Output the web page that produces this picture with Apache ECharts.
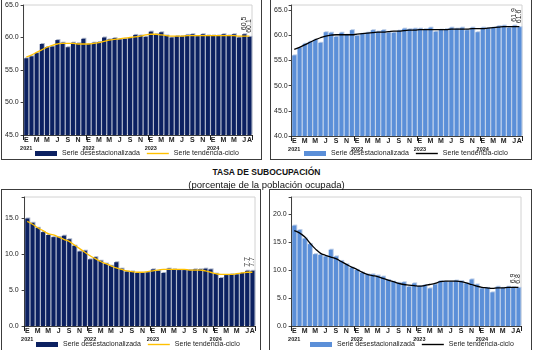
<!DOCTYPE html>
<html>
<head>
<meta charset="utf-8">
<script src="https://cdn.jsdelivr.net/npm/echarts@6/dist/echarts.min.js"></script>
<style>
body { margin: 0; width: 533px; height: 350px; overflow: hidden; background: #fff; position: relative; font-family: 'Liberation Sans', Arial, sans-serif; }
.panel { position: absolute; box-sizing: border-box; border: 1px solid #3c3c3c; }
.tit { position: absolute; left: 0; width: 533px; text-align: center; color: #111; white-space: nowrap; }
</style>
</head>
<body>
<div id="g1" class="panel" style="left:1px;top:-1px;width:261px;height:161px"></div>
<div id="g2" class="panel" style="left:270px;top:-1px;width:262px;height:161px"></div>
<div id="g3" class="panel" style="left:1px;top:189px;width:260px;height:170px"></div>
<div id="g4" class="panel" style="left:269px;top:189px;width:263px;height:170px"></div>
<div class="tit" style="top:167px;font-size:8.5px;line-height:10px;font-weight:bold">TASA DE SUBOCUPACIÓN</div>
<div class="tit" style="top:179px;font-size:9.5px;line-height:12px">(porcentaje de la población ocupada)</div>
<script>
var fuente = "'Liberation Sans', Arial, sans-serif";

// meses ene-2021 a ago-2024
var meses = ['E','F','M','A','M','J','J','A','S','O','N','D',
             'E','F','M','A','M','J','J','A','S','O','N','D',
             'E','F','M','A','M','J','J','A','S','O','N','D',
             'E','F','M','A','M','J','J','A'];
var anios = ['2021', '2022', '2023', '2024'];

// panel superior izquierdo
var desest1 = [56.8,57.1,57.6,59.0,58.5,58.6,59.6,59.2,58.5,59.2,59.1,59.8,
               59.0,59.2,59.3,60.0,59.7,59.9,59.7,59.8,59.9,60.4,60.3,60.1,
               60.9,60.5,60.8,60.3,60.0,60.2,60.2,60.4,60.5,60.2,60.5,60.3,
               60.3,60.3,60.5,60.3,60.5,60.0,60.5,60.1];
var tend1 = [57.0,57.3,57.7,58.1,58.5,58.8,59.0,59.1,59.1,59.1,59.0,59.0,
             59.0,59.1,59.2,59.4,59.6,59.7,59.8,59.9,60.0,60.1,60.2,60.4,
             60.5,60.5,60.4,60.3,60.2,60.2,60.2,60.3,60.3,60.3,60.3,60.3,
             60.3,60.3,60.3,60.3,60.3,60.2,60.2,60.2];

// panel superior derecho
var desest2 = [56.0,57.5,58.3,58.7,59.1,58.5,60.6,60.5,59.7,60.5,60.1,61.0,
               59.9,60.3,60.5,61.0,60.7,61.0,60.5,60.5,60.9,61.3,61.2,61.3,
               61.3,61.2,61.5,60.7,61.1,61.2,61.5,61.3,61.5,61.0,61.5,60.6,
               61.5,61.4,61.5,61.8,61.9,61.5,61.9,61.6];
var tend2 = [57.2,57.6,58.1,58.6,59.1,59.5,59.8,60.0,60.1,60.1,60.1,60.1,
             60.2,60.3,60.4,60.5,60.6,60.6,60.7,60.8,60.8,60.9,61.0,61.0,
             61.1,61.1,61.1,61.1,61.1,61.1,61.2,61.2,61.2,61.2,61.3,61.3,
             61.3,61.4,61.5,61.6,61.7,61.7,61.7,61.7];

// subocupacion, panel inferior izquierdo
var desest3 = [15.0,14.4,13.7,13.1,12.7,12.4,12.4,12.6,12.1,11.2,10.4,10.5,
               9.3,9.6,9.1,8.7,8.4,8.9,8.0,7.6,7.6,7.4,7.4,7.5,
               7.9,7.7,7.4,8.0,7.9,7.8,7.8,7.8,7.9,7.9,8.0,7.9,
               7.3,6.7,7.1,7.2,7.2,7.4,7.7,7.7];
var tend3 = [14.6,14.2,13.7,13.3,12.9,12.7,12.4,12.1,11.8,11.3,10.8,10.3,
             9.8,9.4,9.0,8.7,8.4,8.1,7.9,7.7,7.6,7.5,7.5,7.6,
             7.7,7.8,7.9,7.9,7.9,7.9,7.9,7.8,7.8,7.8,7.7,7.5,
             7.3,7.2,7.2,7.2,7.3,7.4,7.5,7.5];

// subocupacion, panel inferior derecho
var desest4 = [17.9,17.1,15.6,14.6,12.8,12.7,12.4,13.6,12.4,11.6,11.0,10.4,
               10.0,9.5,9.2,9.2,9.0,8.8,8.2,7.9,7.7,7.8,7.0,7.6,
               7.1,7.3,6.7,7.4,8.0,7.9,7.9,8.1,8.0,7.6,8.3,7.4,
               6.7,6.8,6.0,7.0,6.8,7.0,6.9,6.8];
var tend4 = [17.0,16.6,15.9,14.8,13.8,13.0,12.6,12.3,12.0,11.5,11.0,10.5,
             10.1,9.6,9.2,9.0,8.8,8.5,8.2,7.9,7.6,7.4,7.3,7.2,
             7.1,7.2,7.4,7.6,7.9,8.0,8.0,8.0,7.9,7.7,7.4,7.1,
             6.9,6.8,6.7,6.8,6.8,6.9,6.9,6.9];

var marino = '#0c2161', celeste = '#5b8fd8';

function grafica(id, cfg) {
	var chart = echarts.init(document.getElementById(id));
	var n = meses.length;
	chart.setOption({
		animation: false,
		textStyle: { fontFamily: fuente },
		grid: {
			left: cfg.grid[0], top: cfg.grid[1], width: cfg.grid[2], height: cfg.grid[3],
			show: true, borderColor: '#d2d2d2', borderWidth: 1
		},
		legend: {
			left: cfg.leyenda[0], top: cfg.leyenda[1], padding: 0,
			itemWidth: 22, itemHeight: 5, itemGap: 7,
			textStyle: { fontSize: 7, color: '#222', fontFamily: fuente },
			data: [
				{ name: 'Serie desestacionalizada', icon: 'rect', itemStyle: { shadowColor: 'transparent' } },
				{ name: 'Serie tendencia-ciclo', icon: 'path://M0,0L22,0L22,1.4L0,1.4Z' }
			]
		},
		xAxis: {
			type: 'category',
			data: meses,
			axisLine: { lineStyle: { color: '#404040', width: 1 } },
			axisTick: {
				show: true, length: 5,
				interval: function(i) { return i % 12 === 0; },
				lineStyle: { color: '#202020' }
			},
			axisLabel: {
				interval: function(i) { return i % 2 === 0 || i === n - 1; },
				margin: 2,
				color: '#222',
				align: 'center',
				formatter: function(v, i) {
					if (i % 12 === 0) return '{m|' + v + '}\n{a|' + anios[i / 12] + '}';
					return '{m|' + v + '}';
				},
				rich: {
					m: { fontSize: 7, fontWeight: 'bold', lineHeight: 7, align: 'center', color: '#222', fontFamily: fuente },
					a: { fontSize: 5.5, fontWeight: 'bold', lineHeight: 8, align: 'center', color: '#222', fontFamily: fuente }
				}
			}
		},
		yAxis: {
			type: 'value',
			min: cfg.min, max: cfg.max, interval: 5,
			axisLine: { show: true, lineStyle: { color: '#404040' } },
			axisTick: { show: true, length: 3, lineStyle: { color: '#404040' } },
			splitLine: { show: false },
			axisLabel: {
				fontSize: 7, color: '#222', margin: cfg.margen,
				formatter: function(v) { return v % 5 === 0 ? v.toFixed(1) : ''; }
			}
		},
		series: [{
			name: 'Serie desestacionalizada',
			type: 'bar',
			data: cfg.barras,
			barCategoryGap: '22%',
			itemStyle: { color: cfg.color, shadowColor: cfg.sombra, shadowOffsetX: 1, shadowOffsetY: -1, shadowBlur: 0 },
			label: {
				show: true, position: 'top', rotate: 90, align: 'left', verticalAlign: 'middle',
				distance: 4, fontSize: 7, color: '#222',
				formatter: function(p) { return p.dataIndex >= n - 2 ? p.value.toFixed(1) : ''; }
			}
		}, {
			name: 'Serie tendencia-ciclo',
			type: 'line',
			data: cfg.tendencia,
			smooth: true,
			symbol: 'none',
			z: 5,
			lineStyle: { color: cfg.linea, width: 1.3 },
			itemStyle: { color: cfg.linea }
		}]
	});
}

grafica('g1', { grid: [19, 5, 231, 130], min: 45, max: 65, margen: 5, leyenda: [33, 150],
	barras: desest1, tendencia: tend1, color: marino, sombra: '#a9b2c6', linea: '#ffc000' });
grafica('g2', { grid: [19, 5, 232, 131], min: 40, max: 66, margen: 4, leyenda: [33, 150],
	barras: desest2, tendencia: tend2, color: celeste, sombra: '#b9cbe6', linea: '#000000' });
grafica('g3', { grid: [19, 7, 234, 129], min: 0, max: 18, margen: 6, leyenda: [34, 151],
	barras: desest3, tendencia: tend3, color: marino, sombra: '#a9b2c6', linea: '#ffc000' });
grafica('g4', { grid: [21, 7, 230, 129], min: 0, max: 23, margen: 5, leyenda: [40, 151],
	barras: desest4, tendencia: tend4, color: celeste, sombra: '#b9cbe6', linea: '#000000' });
</script>
</body>
</html>
